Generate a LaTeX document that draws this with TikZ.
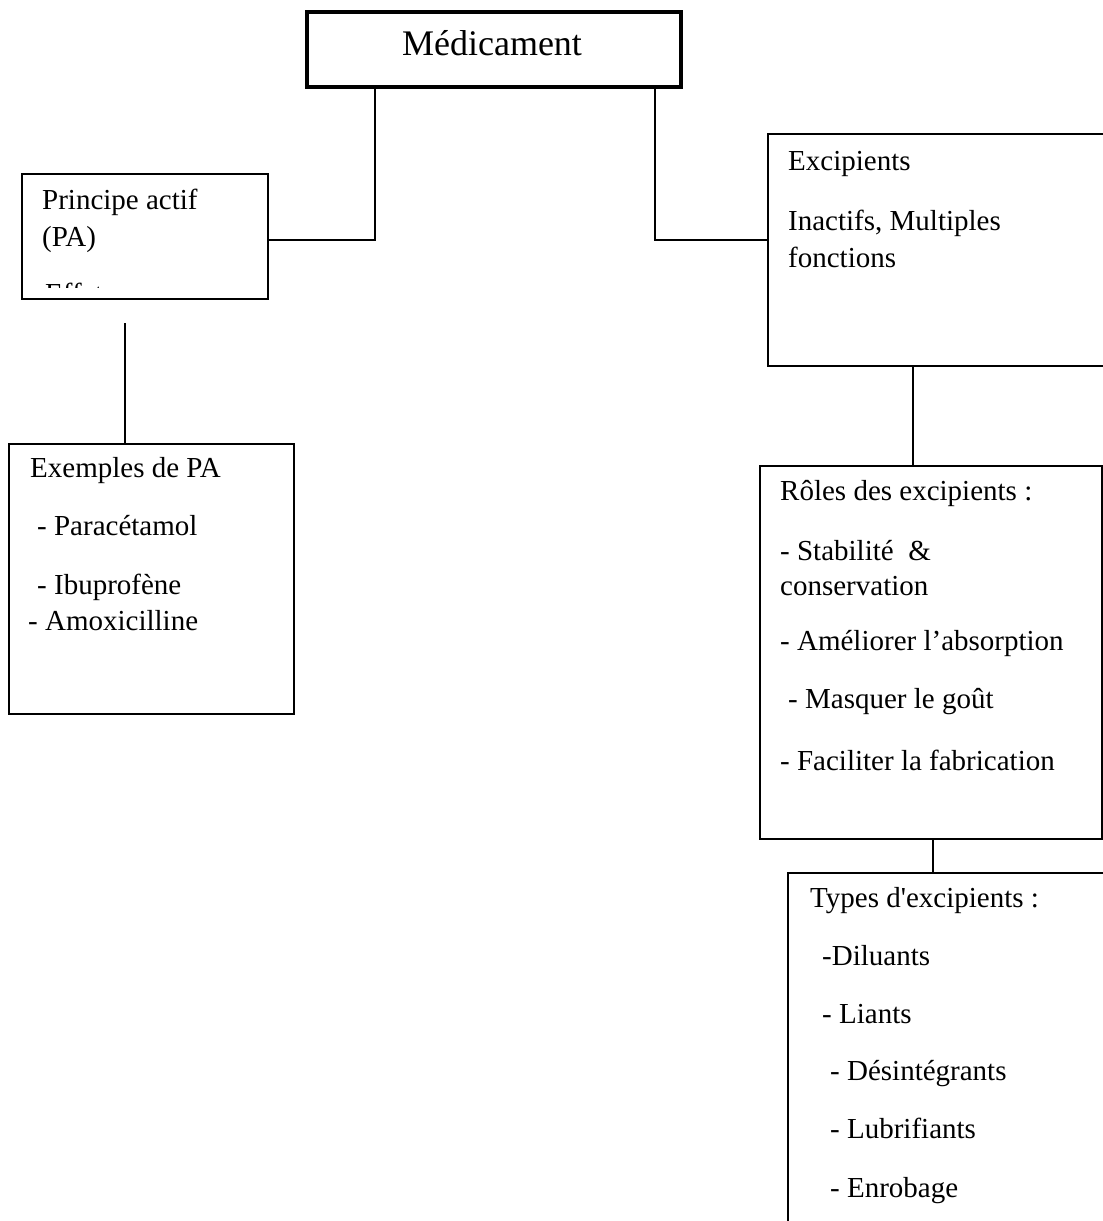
\documentclass[tikz,border=0pt]{standalone}
\usepackage{fontspec}
\setmainfont{Liberation Serif}
\begin{document}
\begin{tikzpicture}[x=1pt,y=-1pt,
  box/.style={draw, line width=2pt, rectangle, inner sep=0pt, anchor=north west},
  link/.style={line width=1.6pt},
  txt/.style={anchor=base west, inner sep=0pt, font=\fontsize{29}{34}\selectfont},
]
% page frame
\clip (0,0) rectangle (1103,1221);
\fill[white] (0,0) rectangle (1103,1221);

% boxes
\node[box, line width=4pt, minimum width=374pt, minimum height=75pt] (med) at (305,10) {};
\node[box, minimum width=246pt, minimum height=125pt] (pa) at (21,173) {};
\node[box, minimum width=285pt, minimum height=270pt] (ex) at (8,443) {};
\node[box, minimum width=360pt, minimum height=232pt] (exc) at (767,133) {};
\node[box, minimum width=342pt, minimum height=373pt] (roles) at (759,465) {};
\node[box, minimum width=340pt, minimum height=400pt] (types) at (787,872) {};

% title
\node[anchor=base, inner sep=0pt, font=\fontsize{36}{40}\selectfont] (medt) at (492,55) {Médicament};

% connectors
\draw[link] (med.south -| 375,0) |- (pa.east |- 0,240);
\draw[link] (med.south -| 655,0) |- (exc.west |- 0,240);
\coordinate (pastub) at (125,323);
\draw[link] (pastub) -- (ex.north -| pastub);
\draw[link] (exc.south -| 913,0) -- (roles.north -| 913,0);
\draw[link] (roles.south -| 933,0) -- (types.north -| 933,0);

% principe actif
\node[txt] (pa1) at (42,209) {Principe actif};
\node[txt] (pa2) at (42,246) {(PA)};
\begin{scope}
  \clip (pa.north west) rectangle (267,287.5);
  \node[txt] (effet) at (45,303) {Effet};
\end{scope}

% exemples
\node[txt] (ex1) at (30,477) {Exemples de PA};
\node[txt] (ex2) at (37,535) {- Paracétamol};
\node[txt] (ex3) at (37,594) {- Ibuprofène};
\node[txt] (ex4) at (28,630) {- Amoxicilline};

% excipients
\node[txt] (exc1) at (788,170) {Excipients};
\node[txt] (exc2) at (788,230) {Inactifs, Multiples};
\node[txt] (exc3) at (788,267) {fonctions};

% roles
\node[txt] (r1) at (780,500) {Rôles des excipients :};
\node[txt] (r2) at (780,560) {- Stabilité~ \&};
\node[txt] (r3) at (780,595) {conservation};
\node[txt] (r4) at (780,650) {- Améliorer l’absorption};
\node[txt] (r5) at (788,708) {- Masquer le goût};
\node[txt] (r6) at (780,770) {- Faciliter la fabrication};

% types
\node[txt] (t1) at (810,907) {Types d\textquotesingle excipients :};
\node[txt] (t2) at (822,965) {-Diluants};
\node[txt] (t3) at (822,1023) {- Liants};
\node[txt] (t4) at (830,1080) {- Désintégrants};
\node[txt] (t5) at (830,1138) {- Lubrifiants};
\node[txt] (t6) at (830,1197) {- Enrobage};
\end{tikzpicture}
\end{document}
